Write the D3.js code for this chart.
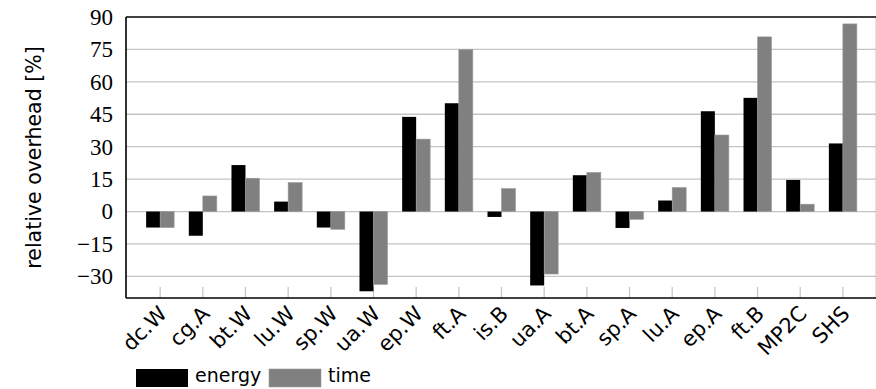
<!DOCTYPE html>
<html>
<head>
<meta charset="utf-8">
<script src="https://cdn.jsdelivr.net/npm/d3@7"></script>
<style>
  body { margin: 0; background: #fff; }
  .ytick text { font-family: "Liberation Serif", "DejaVu Serif", serif !important; }
</style>
</head>
<body>
<div id="chart"></div>
<script>
// benchmark names along the x axis
const categories = ["dc.W", "cg.A", "bt.W", "lu.W", "sp.W", "ua.W", "ep.W", "ft.A", "is.B",
                    "ua.A", "bt.A", "sp.A", "lu.A", "ep.A", "ft.B", "MP2C", "SHS"];
// relative overhead in percent
const energy = [-7.4, -11.2, 21.5, 4.6, -7.4, -36.9, 43.8, 50.1, -2.5,
                -34.2, 16.8, -7.6, 5.1, 46.4, 52.6, 14.6, 31.5];
const time = [-7.4, 7.2, 15.4, 13.4, -8.2, -33.7, 33.5, 74.9, 10.6,
              -28.9, 18.1, -3.6, 11.1, 35.4, 80.8, 3.4, 86.8];
const yTicks = [-30, -15, 0, 15, 30, 45, 60, 75, 90];
const seriesNames = ["energy", "time"];
const seriesColors = ["#000000", "#808080"];

const W = 876, H = 389;
const plot = { left: 126, right: 877, top: 17, bottom: 298 };

const svg = d3.select("#chart").append("svg")
    .attr("width", W)
    .attr("height", H);

const x = d3.scalePoint()
    .domain(categories)
    .range([plot.left, plot.right])
    .padding(0.8);

const y = d3.scaleLinear()
    .domain([-40, 90])
    .range([plot.bottom, plot.top]);

const barW = 14;

// horizontal grid
svg.append("g")
    .selectAll("line")
    .data(yTicks.filter(t => t !== 90))
    .enter().append("line")
    .attr("x1", plot.left)
    .attr("x2", plot.right)
    .attr("y1", d => y(d))
    .attr("y2", d => y(d))
    .attr("stroke", "#c4c4c4")
    .attr("stroke-width", 1.3);

// small gray ticks at each category along the bottom
svg.append("g")
    .selectAll("line")
    .data(categories)
    .enter().append("line")
    .attr("x1", d => x(d))
    .attr("x2", d => x(d))
    .attr("y1", plot.bottom)
    .attr("y2", plot.bottom - 11)
    .attr("stroke", "#c4c4c4")
    .attr("stroke-width", 1.2);

// bars: energy on the left of each tick, time on the right
const series = [energy, time];
series.forEach((vals, si) => {
    svg.append("g")
        .selectAll("rect")
        .data(vals)
        .enter().append("rect")
        .attr("x", (d, i) => x(categories[i]) + (si === 0 ? -barW : 0))
        .attr("width", barW)
        .attr("y", d => y(Math.max(0, d)))
        .attr("height", d => Math.abs(y(d) - y(0)))
        .attr("fill", seriesColors[si])
        .attr("stroke", si === 0 ? "none" : "#999")
        .attr("stroke-width", 0.6);
});

// frame
svg.append("line")
    .attr("x1", plot.right - 1).attr("x2", plot.right - 1)
    .attr("y1", plot.top).attr("y2", plot.bottom)
    .attr("stroke", "#c4c4c4").attr("stroke-width", 1);
svg.append("line")
    .attr("x1", plot.left).attr("x2", W)
    .attr("y1", plot.top).attr("y2", plot.top)
    .attr("stroke", "#000").attr("stroke-width", 1.6);
svg.append("line")
    .attr("x1", plot.left).attr("x2", W)
    .attr("y1", plot.bottom).attr("y2", plot.bottom)
    .attr("stroke", "#000").attr("stroke-width", 1.6);

// y axis
const yAxis = d3.axisLeft(y)
    .tickValues(yTicks)
    .tickSize(0)
    .tickPadding(13)
    .tickFormat(d => d < 0 ? "\u2212" + Math.abs(d) : String(d));

const yg = svg.append("g")
    .attr("class", "ytick")
    .attr("transform", `translate(${plot.left},0)`)
    .call(yAxis);
yg.attr("font-family", null).attr("font-size", null);
yg.select(".domain")
    .attr("d", `M0,${plot.top}V${plot.bottom}`)
    .attr("stroke", "#000")
    .attr("stroke-width", 1.6);
yg.selectAll("text")
    .style("font-size", "23px")
    .attr("fill", "#000");

svg.append("text")
    .attr("transform", `translate(41,${(plot.top + plot.bottom) / 2}) rotate(-90)`)
    .attr("text-anchor", "middle")
    .style("font-family", "'DejaVu Sans', sans-serif")
    .style("font-size", "20.5px")
    .text("relative overhead [%]");

// rotated category labels
svg.append("g")
    .selectAll("text")
    .data(categories)
    .enter().append("text")
    .attr("transform", d => `translate(${x(d) + 8},${plot.bottom + 17}) rotate(-45)`)
    .attr("text-anchor", "end")
    .style("font-family", "'DejaVu Sans', sans-serif")
    .style("font-size", "21px")
    .text(d => d);

// legend
const legend = svg.append("g");
const legendX = [136, 269];
seriesNames.forEach((name, i) => {
    legend.append("rect")
        .attr("x", legendX[i])
        .attr("y", 369)
        .attr("width", 52)
        .attr("height", 18)
        .attr("fill", seriesColors[i])
        .attr("stroke", i === 0 ? "none" : "#999")
        .attr("stroke-width", 0.6);
    legend.append("text")
        .attr("x", legendX[i] + 59)
        .attr("y", 382)
        .style("font-family", "'DejaVu Sans', sans-serif")
        .style("font-size", "19px")
        .text(name);
});
</script>
</body>
</html>
